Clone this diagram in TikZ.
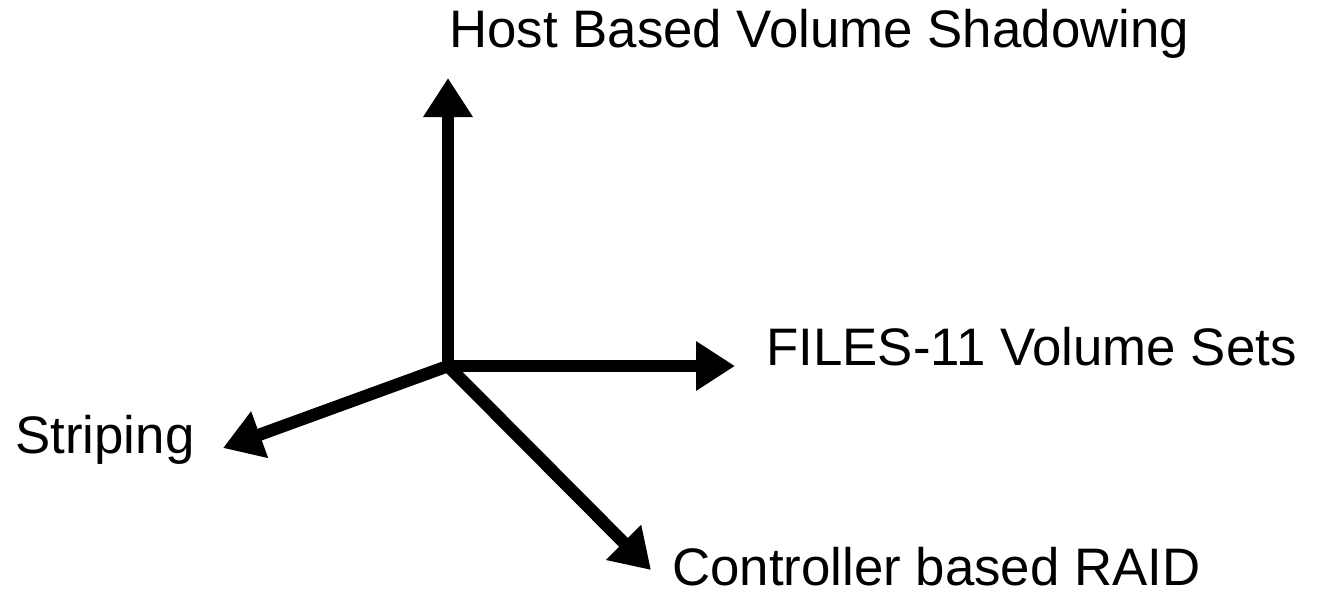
\documentclass[tikz,border=0pt]{standalone}
\usepackage{fontspec}
\setmainfont{Liberation Sans}
\usetikzlibrary{arrows.meta}
\tikzset{
  axis/.style={line width=6.2pt, line cap=round, -{Triangle[length=19.5pt,width=23.5pt]}},
  lbl/.style={inner sep=0pt, anchor=base west, font=\fontsize{26.4}{31}\selectfont}
}
\begin{document}
\begin{tikzpicture}[x=0.5pt,y=-0.5pt]
\useasboundingbox (0,0) rectangle (1323,595);
\coordinate (O) at (448,366);
\coordinate (up) at (448,78);
\coordinate (rt) at (735,366);
\coordinate (lf) at (223,448);
\coordinate (dr) at (651,570);
\draw[axis] (O) -- (up);
\draw[axis] (O) -- (rt);
\draw[axis] (O) -- (lf);
\draw[axis] (O) -- (dr);
\node[lbl] (host) at (449,47) {Host Based Volume Shadowing};
\node[lbl] (files) at (766,365) {FILES-11 Volume Sets};
\node[lbl] (strip) at (15,453) {Striping};
\node[lbl] (raid) at (672,585) {Controller based RAID};
\end{tikzpicture}
\end{document}
